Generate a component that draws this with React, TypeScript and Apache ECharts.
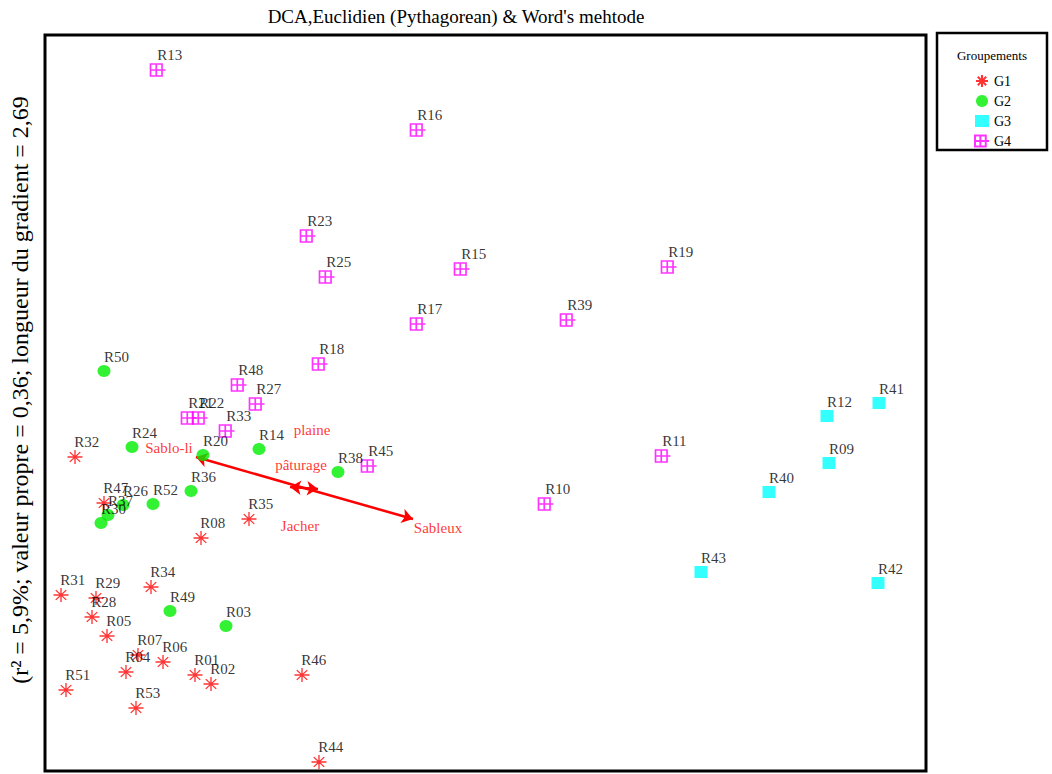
import React, { useEffect, useRef } from "react";
import * as echarts from "echarts";

// Site scores (arbitrary ordination units, axis 1 = x, axis 2 = y)
const G1: [string, number, number][] = [
  ["R32", 30, 314], ["R47", 59, 268], ["R35", 204, 252], ["R08", 156, 233],
  ["R31", 16, 176], ["R29", 51, 173], ["R34", 106, 184], ["R28", 47, 154],
  ["R05", 62, 135], ["R07", 93, 116], ["R06", 118, 109], ["R04", 81, 99],
  ["R01", 150, 96], ["R02", 166, 87], ["R46", 257, 96], ["R51", 21, 81],
  ["R53", 91, 63], ["R44", 274, 9],
];
const G2: [string, number, number][] = [
  ["R50", 59, 400], ["R24", 87, 324], ["R20", 158, 316], ["R14", 214, 322],
  ["R38", 293, 299], ["R36", 146, 280], ["R52", 108, 267], ["R26", 78, 266],
  ["R37", 63, 256], ["R30", 56, 248], ["R49", 125, 160], ["R03", 181, 145],
];
const G3: [string, number, number][] = [
  ["R41", 834, 368], ["R12", 782, 355], ["R09", 784, 308], ["R40", 724, 279],
  ["R43", 656, 199], ["R42", 833, 188],
];
const G4: [string, number, number][] = [
  ["R13", 113, 701], ["R16", 373, 641], ["R23", 263, 535], ["R25", 282, 494],
  ["R15", 417, 502], ["R19", 624, 504], ["R17", 373, 447], ["R39", 523, 451],
  ["R18", 275, 407], ["R48", 194, 386], ["R27", 212, 367], ["R22", 155, 353],
  ["R21", 144, 353], ["R33", 182, 340], ["R45", 324, 305], ["R11", 618, 315],
  ["R10", 501, 267],
];

// Environmental vectors
const ENV_ORIGIN: [number, number] = [259, 283];
const ENV_TIPS: [string, number, number][] = [
  ["Sablo-li", 151, 314], ["Sableux", 368, 252], ["pâturage", 245, 284],
  ["plaine", 273, 282],
];
const ENV_LABELS: [string, number, number][] = [
  ["Sablo-li", 124, 323], ["Sableux", 393, 243], ["plaine", 267, 341],
  ["pâturage", 256, 306], ["Jacher", 255, 245],
];

const X_MAX = 881;
const Y_MAX = 736;

const TITLE = "DCA,Euclidien (Pythagorean) & Word's mehtode";
const Y_TITLE = "(r² = 5,9%; valeur propre = 0,36; longueur du gradient = 2,69";
const LEGEND_TITLE = "Groupements";
const FONT = "'Liberation Serif', 'Times New Roman', serif";

const ASTERISK = "path://M0 5H10M5 0V10M1.5 1.5L8.5 8.5M8.5 1.5L1.5 8.5";
const BOXCROSS = "path://M0 0H10V10H0ZM5 0V10M0 5H13";

function pts(arr: [string, number, number][]) {
  return arr.map(([n, x, y]) => ({ name: n, value: [x, y] }));
}

function labelCfg(w: number, h: number) {
  return {
    show: true,
    formatter: "{b}",
    position: [w / 2, h / 2 - 14],
    align: "left",
    verticalAlign: "middle",
    color: "#000",
    fontFamily: FONT,
    fontSize: 15,
  };
}

export default function App() {
  const ref = useRef<HTMLDivElement>(null);
  useEffect(() => {
    if (!ref.current) return;
    const chart = echarts.init(ref.current, undefined, { renderer: "svg" });
    chart.setOption({
      animation: false,
      backgroundColor: "#fff",
      grid: {
        left: 45, top: 35, width: 881, height: 736,
        show: true, borderColor: "#000", borderWidth: 3, backgroundColor: "#fff",
      },
      xAxis: { type: "value", min: 0, max: X_MAX, show: false },
      yAxis: { type: "value", min: 0, max: Y_MAX, show: false },
      legend: {
        orient: "vertical", left: 974, top: 74, padding: 0,
        itemWidth: 14, itemHeight: 12, itemGap: 6,
        textStyle: { fontFamily: FONT, fontSize: 14, color: "#000" },
        data: ["G1", "G2", "G3", "G4"],
      },
      graphic: [
        {
          type: "text", x: 456, y: 16,
          style: { text: TITLE, align: "center", verticalAlign: "middle", font: `19px ${FONT}`, fill: "#000" },
        },
        {
          type: "text", x: 20, y: 390, rotation: Math.PI / 2,
          style: { text: Y_TITLE, align: "center", verticalAlign: "middle", font: `24px ${FONT}`, fill: "#000" },
        },
        {
          type: "rect", shape: { x: 937, y: 33, width: 110, height: 117 },
          style: { fill: "#fff", stroke: "#000", lineWidth: 2.5 }, z: -1,
        },
        {
          type: "text", x: 992, y: 55,
          style: { text: LEGEND_TITLE, align: "center", verticalAlign: "middle", font: `13px ${FONT}`, fill: "#000" },
        },
      ],
      series: [
        {
          type: "lines", coordinateSystem: "cartesian2d", z: 1,
          symbol: ["none", "arrow"], symbolSize: 11,
          lineStyle: { color: "#ff0000", width: 2.5, opacity: 1 },
          data: ENV_TIPS.map(([n, x, y]) => ({ name: n, coords: [ENV_ORIGIN, [x, y]] })),
          silent: true,
        },
        {
          type: "scatter", name: "env", symbolSize: 0, z: 2, silent: true,
          data: pts(ENV_LABELS),
          label: {
            show: true, formatter: "{b}", position: "inside",
            color: "#ff0000", fontFamily: FONT, fontSize: 15,
          },
        },
        {
          type: "scatter", name: "G1", symbol: ASTERISK, symbolSize: [15, 14], z: 3,
          itemStyle: { color: "rgba(0,0,0,0)", borderColor: "#ff0000", borderWidth: 1.3 },
          data: pts(G1), label: labelCfg(15, 14),
        },
        {
          type: "scatter", name: "G2", symbol: "circle", symbolSize: [13, 12], z: 3,
          itemStyle: { color: "#00ee00" },
          data: pts(G2), label: labelCfg(13, 12),
        },
        {
          type: "scatter", name: "G3", symbol: "rect", symbolSize: [13, 12], z: 3,
          itemStyle: { color: "#00ffff" },
          data: pts(G3), label: labelCfg(13, 12),
        },
        {
          type: "scatter", name: "G4", symbol: BOXCROSS, symbolSize: [15, 12], z: 3,
          itemStyle: { color: "rgba(0,0,0,0)", borderColor: "#ff00ff", borderWidth: 1.5 },
          data: pts(G4), label: labelCfg(15, 12),
        },
      ],
    });
    return () => chart.dispose();
  }, []);
  return (
    <div
      ref={ref}
      style={{ position: "fixed", left: 0, top: 0, width: 1052, height: 774, background: "#fff" }}
    />
  );
}
